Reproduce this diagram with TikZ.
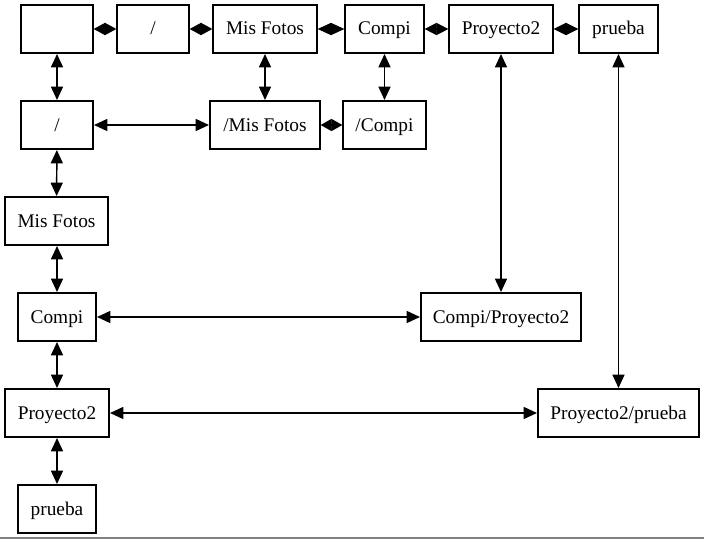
\documentclass[tikz,border=0pt]{standalone}
\usepackage{fontspec}
\setmainfont{Liberation Serif}
\usetikzlibrary{arrows.meta}
\begin{document}
\begin{tikzpicture}[x=0.75pt,y=-0.75pt,
  box/.style={draw,line width=0.9pt,inner sep=0pt,minimum height=36pt,text height=11pt,text depth=2pt,font=\fontsize{14.5}{16}\selectfont},
  link/.style={line width=1.1pt,{Triangle[length=10pt,width=9pt]}-{Triangle[length=10pt,width=9pt]},shorten <=0.3pt,shorten >=0.3pt},
  shortlink/.style={line width=1.1pt,{Triangle[length=#1,width=9pt]}-{Triangle[length=#1,width=9pt]}}]
\useasboundingbox (0,0) rectangle (704,539);
\node[box,minimum width=54pt] (r1a) at (57,29) {};
\node[box,minimum width=54pt] (r1b) at (153,29) {/};
\node[box,minimum width=78pt] (r1c) at (265,29) {Mis Fotos};
\node[box,minimum width=59.25pt] (r1d) at (384.5,29) {Compi};
\node[box,minimum width=78pt] (r1e) at (501,29) {Proyecto2};
\node[box,minimum width=59.25pt] (r1f) at (618.5,29) {prueba};
\node[box,minimum width=54pt] (r2a) at (57,125) {/};
\node[box,minimum width=82.5pt] (r2b) at (265,125) {/Mis Fotos};
\node[box,minimum width=62.25pt] (r2c) at (384.5,125) {/Compi};
\node[box,minimum width=77.25pt] (r3) at (56.5,221) {Mis Fotos};
\node[box,minimum width=58.5pt] (r4) at (57,317) {Compi};
\node[box,minimum width=120pt] (r4b) at (501,317) {Compi/Proyecto2};
\node[box,minimum width=78pt] (r5) at (57,413) {Proyecto2};
\node[box,minimum width=120.75pt] (r5b) at (618.5,413) {Proyecto2/prueba};
\node[box,minimum width=58.5pt] (r6) at (57,509) {prueba};
\draw[shortlink=8.6pt] (r1a) -- (r1b);
\draw[shortlink=8.6pt] (r1b) -- (r1c);
\draw[shortlink=10.1pt] (r1c) -- (r1d);
\draw[shortlink=9pt] (r1d) -- (r1e);
\draw[shortlink=9.4pt] (r1e) -- (r1f);
\draw[link] (r1a) -- (r2a);
\draw[link] (r1c) -- (r2b);
\draw[link] (r1d) -- (r2c);
\draw[link] (r2a) -- (r2b);
\draw[shortlink=8.3pt] (r2b) -- (r2c);
\draw[link] (r2a) -- (r3);
\draw[link] (r3.south -| r4) -- (r4);
\draw[link] (r4) -- (r4b);
\draw[link] (r1e) -- (r4b);
\draw[link] (r4) -- (r5);
\draw[link] (r5) -- (r5b);
\draw[link] (r1f) -- (r5b);
\draw[link] (r5) -- (r6);
\draw[gray,line width=1.5pt] (0,538) -- (704,538);
\end{tikzpicture}
\end{document}
